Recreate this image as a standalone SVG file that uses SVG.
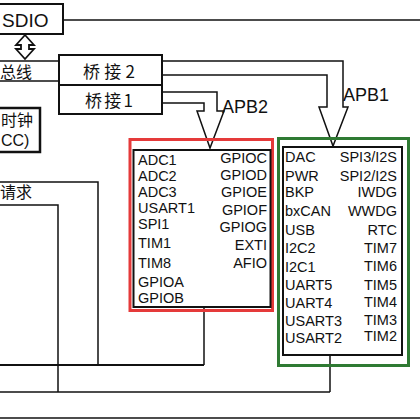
<svg xmlns="http://www.w3.org/2000/svg" width="420" height="419" viewBox="0 0 420 419">
<style>
.box{fill:#fff;stroke:#111;stroke-width:2}
.ln{fill:none;stroke:#111;stroke-width:1.5}
.th{fill:none;stroke:#111;stroke-width:2.2}
.t{font-family:"Liberation Sans",Arial,sans-serif;font-size:14.5px;fill:#111}
.r{text-anchor:end}
.cjk{font-family:"Noto Sans CJK SC","Liberation Sans",sans-serif;font-size:16px;fill:#111}
</style>
<rect width="420" height="419" fill="#fff"/>
<g id="connectors">
<line class="ln" x1="63" y1="20" x2="420" y2="20"/>
<line class="ln" x1="0" y1="61" x2="59" y2="61"/>
<line class="ln" x1="0" y1="81" x2="59" y2="81"/>
<polygon points="25,35 34,45 29,45 29,49 34,49 25,59 16,49 21,49 21,45 16,45" fill="#fff" stroke="#111" stroke-width="1.8"/>
<polyline class="ln" points="162,61 343,61 343,107 348,107 333,146 319,107 327,107 327,75 162,75" fill="#fff"/>
<polyline class="ln" points="162,92 217,92 217,111 224,111 210,148 197,111 204,111 204,103 162,103" fill="#fff"/>
<polyline class="ln" points="0,182 98,182 98,365"/>
<polyline class="ln" points="0,205 58,205 58,392"/>
<line class="th" x1="0" y1="365" x2="204" y2="365"/>
<line class="ln" x1="204" y1="307" x2="204" y2="365"/>
<line class="ln" x1="0" y1="392" x2="330" y2="392"/>
<line class="ln" x1="330" y1="355" x2="330" y2="392"/>
<line class="ln" x1="0" y1="418" x2="420" y2="418"/>
</g>
<g id="sdio">
<rect class="box" x="-5" y="4" width="68" height="30"/>
<text class="t" x="2" y="27" style="font-size:19px">SDIO</text>
</g>
<g id="bus-label">
<text class="cjk" x="0" y="78">总线</text>
</g>
<g id="bridge2">
<rect class="box" x="59" y="55" width="103" height="30"/>
<text class="cjk" x="83" y="78" style="font-size:17px" textLength="52" lengthAdjust="spacing">桥接2</text>
</g>
<g id="bridge1">
<rect class="box" x="59" y="85" width="103" height="29"/>
<text class="cjk" x="85" y="107" style="font-size:17px" textLength="48" lengthAdjust="spacing">桥接1</text>
</g>
<g id="rcc">
<rect x="-5" y="108" width="45" height="44" fill="#fff" stroke="#111" stroke-width="2.5"/>
<text class="cjk" x="1" y="126">时钟</text>
<text class="t" x="1" y="146" style="font-size:16px">CC)</text>
</g>
<g id="request">
<text class="cjk" x="0" y="198">请求</text>
</g>
<g id="apb-labels">
<text class="t" x="222" y="113" style="font-size:18px">APB2</text>
<text class="t" x="343" y="101" style="font-size:18px">APB1</text>
</g>
<g id="apb2-periph">
<rect x="130" y="139.5" width="142.5" height="171" fill="none" stroke="#e53a3a" stroke-width="3"/>
<rect x="133.5" y="150" width="137" height="157" fill="#fff" stroke="#111" stroke-width="2"/>
<text class="t" x="138" y="165">ADC1</text>
<text class="t" x="138" y="181">ADC2</text>
<text class="t" x="138" y="197">ADC3</text>
<text class="t" x="138" y="213">USART1</text>
<text class="t" x="138" y="229">SPI1</text>
<text class="t" x="138" y="248">TIM1</text>
<text class="t" x="138" y="268">TIM8</text>
<text class="t" x="138" y="287">GPIOA</text>
<text class="t" x="138" y="303">GPIOB</text>
<text class="t r" x="267" y="163">GPIOC</text>
<text class="t r" x="267" y="180">GPIOD</text>
<text class="t r" x="267" y="197">GPIOE</text>
<text class="t r" x="267" y="215">GPIOF</text>
<text class="t r" x="267" y="232">GPIOG</text>
<text class="t r" x="267" y="250">EXTI</text>
<text class="t r" x="267" y="268">AFIO</text>
</g>
<g id="apb1-periph">
<rect x="278.5" y="138.5" width="130" height="227" fill="none" stroke="#2f7a33" stroke-width="3"/>
<rect x="283" y="147" width="119" height="208" fill="#fff" stroke="#111" stroke-width="2"/>
<text class="t" x="285" y="162">DAC</text>
<text class="t" x="285" y="181">PWR</text>
<text class="t" x="285" y="197">BKP</text>
<text class="t" x="285" y="216">bxCAN</text>
<text class="t" x="285" y="235">USB</text>
<text class="t" x="285" y="253">I2C2</text>
<text class="t" x="285" y="272">I2C1</text>
<text class="t" x="285" y="290">UART5</text>
<text class="t" x="285" y="308">UART4</text>
<text class="t" x="285" y="326">USART3</text>
<text class="t" x="285" y="343">USART2</text>
<text class="t r" x="397" y="162">SPI3/I2S</text>
<text class="t r" x="397" y="181">SPI2/I2S</text>
<text class="t r" x="397" y="197">IWDG</text>
<text class="t r" x="397" y="216">WWDG</text>
<text class="t r" x="397" y="235">RTC</text>
<text class="t r" x="397" y="253">TIM7</text>
<text class="t r" x="397" y="271">TIM6</text>
<text class="t r" x="397" y="290">TIM5</text>
<text class="t r" x="397" y="307">TIM4</text>
<text class="t r" x="397" y="325">TIM3</text>
<text class="t r" x="397" y="341">TIM2</text>
</g>
</svg>
